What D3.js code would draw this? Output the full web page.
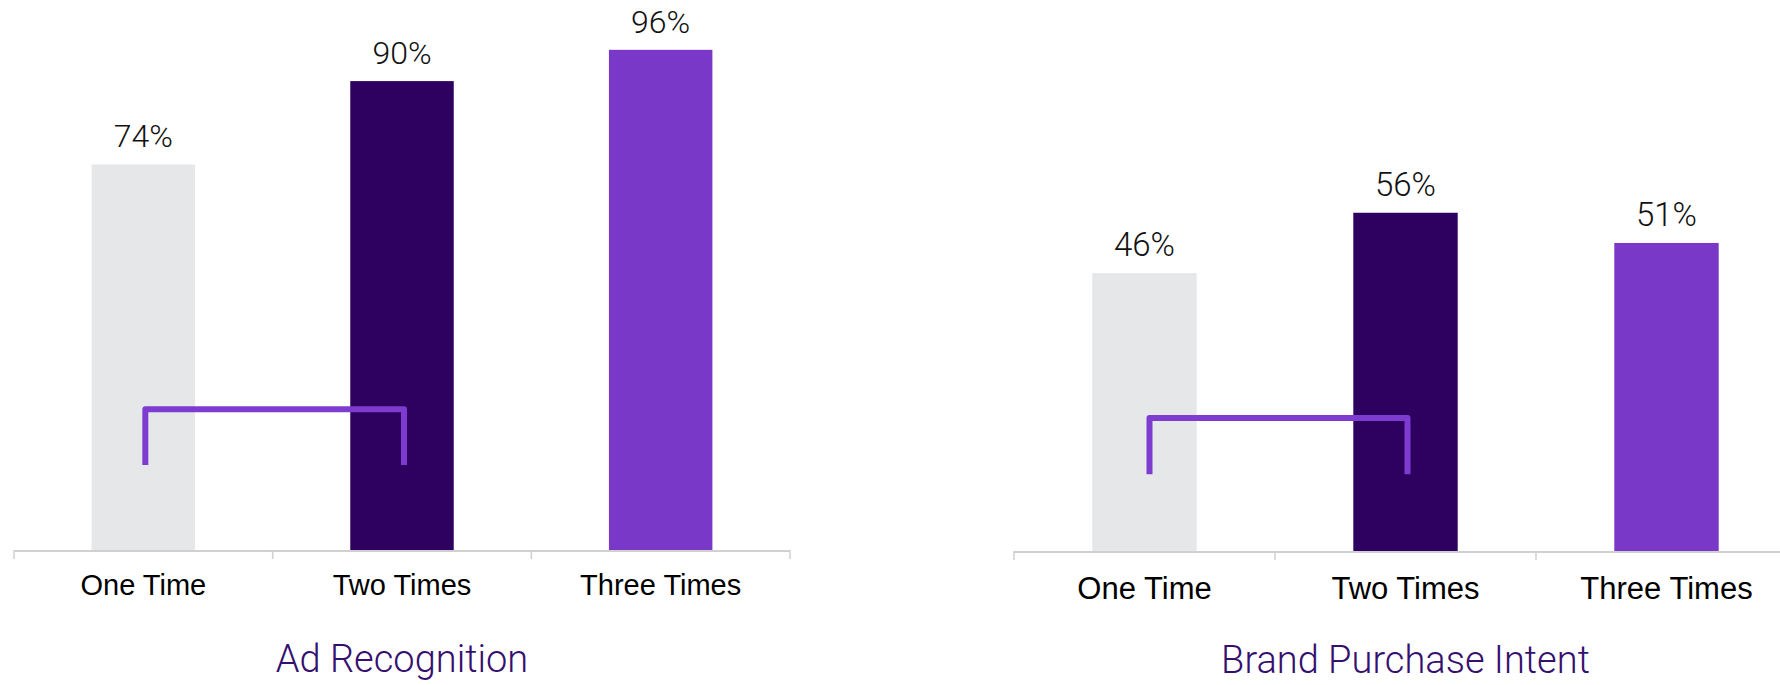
<!DOCTYPE html>
<html>
<head>
<meta charset="utf-8">
<script src="https://cdn.jsdelivr.net/npm/d3@7"></script>
<style>
  body { margin: 0; background: #fff; }
  svg { display: block; }
</style>
</head>
<body>
<div id="staticBody"></div>
<script>
var categories = ["One Time", "Two Times", "Three Times"];
var barColors = ["#e6e7e9", "#2e0060", "#7a38c8"];

var adValues = [74, 90, 96];
var intentValues = [46, 56, 51];

var titles = ["Ad Recognition", "Brand Purchase Intent"];

// bracket levels, in percent units: [top, bottom]
var adBracket = [27, 16.3];
var intentBracket = [22, 12.7];

var width = 1780, height = 685;

var svg = d3.select("#staticBody").append("svg")
	.attr("width", width)
	.attr("height", height);

function drawChart(cfg) {
	var g = svg.append("g");

	var x = d3.scaleBand()
		.domain(categories)
		.range(cfg.xRange)
		.paddingInner(0.6)
		.paddingOuter(0.3);

	var y = d3.scaleLinear()
		.domain([0, 100])
		.range([cfg.base, cfg.base - cfg.full]);

	var data = categories.map(function(c, i){ return { cat: c, val: cfg.values[i], col: barColors[i] }; });

	g.selectAll("rect.bar")
		.data(data)
		.enter().append("rect")
		.attr("class", "bar")
		.attr("x", function(d){ return x(d.cat); })
		.attr("y", function(d){ return y(d.val); })
		.attr("width", x.bandwidth())
		.attr("height", function(d){ return y(0) - y(d.val); })
		.style("fill", function(d){ return d.col; });

	g.selectAll("text.val")
		.data(data)
		.enter().append("text")
		.attr("class", "val")
		.attr("x", function(d){ return x(d.cat) + x.bandwidth() / 2; })
		.attr("y", function(d){ return y(d.val) - 17; })
		.attr("text-anchor", "middle")
		.style("font-family", "Roboto, sans-serif")
		.style("font-weight", "300")
		.style("font-size", cfg.valSize + "px")
		.style("fill", "#111")
		.text(function(d){ return d.val + "%"; });

	// axis line with ticks on band edges
	var step = x.step();
	var r = x.range();
	var edges = d3.range(categories.length + 1).map(function(i){ return r[0] + i * step; });
	g.append("line")
		.attr("x1", r[0]).attr("x2", r[1])
		.attr("y1", y(0) + 1).attr("y2", y(0) + 1)
		.style("stroke", "#d0d0d0")
		.style("stroke-width", 2);
	g.selectAll("line.tick")
		.data(edges)
		.enter().append("line")
		.attr("class", "tick")
		.attr("x1", function(d){ return d; }).attr("x2", function(d){ return d; })
		.attr("y1", y(0)).attr("y2", y(0) + 9)
		.style("stroke", "#d0d0d0")
		.style("stroke-width", 1.5);

	var xAxis = d3.axisBottom(x).tickSize(0).tickPadding(0);
	var ax = g.append("g")
		.attr("class", "axis x")
		.attr("transform", "translate(0," + (y(0) + cfg.catOffset) + ")")
		.call(xAxis);
	ax.select(".domain").remove();
	ax.selectAll("text")
		.attr("dy", 0)
		.attr("y", 0)
		.style("font-family", "'Liberation Sans', Arial, sans-serif")
		.style("font-size", cfg.catSize + "px")
		.style("fill", "#000");

	// bracket between the first two bars
	var bx1 = x(categories[0]) + x.bandwidth() / 2 + cfg.bracketShift;
	var bx2 = x(categories[1]) + x.bandwidth() / 2 + 2;
	var line = d3.line();
	g.append("path")
		.attr("d", line([[bx1, y(cfg.bracket[1])], [bx1, y(cfg.bracket[0])], [bx2, y(cfg.bracket[0])], [bx2, y(cfg.bracket[1])]]))
		.attr("fill", "none")
		.style("stroke", "#7d3ccf")
		.style("stroke-width", 6)
		.style("stroke-linejoin", "round");

	g.append("text")
		.attr("x", (r[0] + r[1]) / 2)
		.attr("y", y(0) + 122)
		.attr("text-anchor", "middle")
		.style("font-family", "Roboto, sans-serif")
		.style("font-weight", "300")
		.style("font-size", "38px")
		.style("fill", "#35106e")
		.text(cfg.title);
}

drawChart({ values: adValues, title: titles[0], bracket: adBracket, bracketShift: 2,
	xRange: [14, 790], base: 550, full: 521, valSize: 32, catSize: 29, catOffset: 45 });

drawChart({ values: intentValues, title: titles[1], bracket: intentBracket, bracketShift: 5,
	xRange: [1014, 1797], base: 551, full: 604, valSize: 33, catSize: 31, catOffset: 48 });
</script>
</body>
</html>
